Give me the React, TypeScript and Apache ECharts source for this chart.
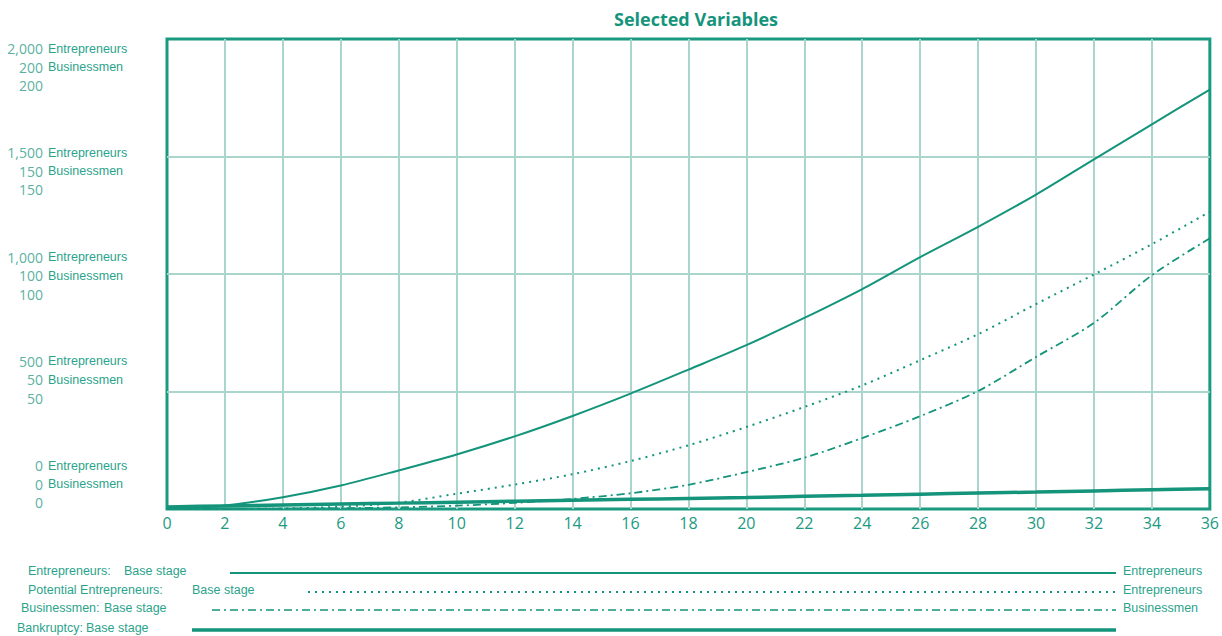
import React, { useEffect, useRef } from "react";
import * as echarts from "echarts";

const time = [0, 2, 4, 6, 8, 10, 12, 14, 16, 18, 20, 22, 24, 26, 28, 30, 32, 34, 36];
const entrepreneurs = [0, 15, 50, 100, 164, 232, 309, 396, 491, 593, 697, 813, 936, 1072, 1201, 1338, 1488, 1637, 1785];
const potentialEntrepreneurs = [0, 0, 2, 10, 27, 65, 104, 148, 204, 271, 349, 434, 526, 633, 744, 872, 998, 1127, 1265];
const businessmen = [0, 0, 0.1, 0.3, 0.7, 1.4, 2.6, 4.3, 6.7, 10.3, 15.7, 21.8, 30.2, 39.5, 50.2, 64.7, 79.2, 99.5, 115.2];
const bankruptcy = [0.9, 1.3, 1.7, 2.1, 2.5, 2.9, 3.3, 3.7, 4.1, 4.5, 4.9, 5.4, 5.8, 6.3, 6.8, 7.2, 7.7, 8.2, 8.6];

const entTickLabels = ["0", "500", "1,000", "1,500", "2,000"];
const busTickLabels = ["0", "50", "100", "150", "200"];

const legendNames = ["Entrepreneurs:", "Potential Entrepreneurs:", "Businessmen:", "Bankruptcy:"];
const legendStage = "Base stage";
const legendRight = ["Entrepreneurs", "Entrepreneurs", "Businessmen", ""];

const TEAL = "#14947b";
const GRIDC = "#a9d5cc";
const TEXTC = "#2ba38b";
const NUMC = "#5cb1a2";

const pairs = (ys: number[]) => ys.map((y, i) => [time[i], y]);

export default function App() {
  const ref = useRef<HTMLDivElement>(null);
  useEffect(() => {
    if (!ref.current) return;
    const chart = echarts.init(ref.current, null, { renderer: "svg" });

    const legendLayout = [
      { y: 571, nameX: 28, stageX: 124, lineX: 230, width: 2, dash: null as any },
      { y: 590, nameX: 28, stageX: 192, lineX: 308, width: 2, dash: [2, 5] },
      { y: 608, nameX: 21, stageX: 104, lineX: 212, width: 1.6, dash: [8, 4, 2, 4] },
      { y: 628, nameX: 17, stageX: 86, lineX: 192, width: 3.5, dash: null as any },
    ];
    const graphic: any[] = [];
    legendLayout.forEach((l, i) => {
      const font = { fontSize: 12.5, fontFamily: "Liberation Sans, Arial", fill: TEXTC, verticalAlign: "middle", align: "left" };
      graphic.push({ type: "text", x: l.nameX, y: l.y, style: { ...font, text: legendNames[i] } });
      graphic.push({ type: "text", x: l.stageX, y: l.y, style: { ...font, text: legendStage } });
      graphic.push({
        type: "line",
        shape: { x1: l.lineX, y1: l.y + 2, x2: 1116, y2: l.y + 2 },
        style: { stroke: TEAL, lineWidth: l.width, lineDash: l.dash || undefined },
      });
      if (legendRight[i]) {
        graphic.push({ type: "text", x: 1123, y: l.y, style: { ...font, text: legendRight[i] } });
      }
    });

    const option: any = {
      animation: false,
      backgroundColor: "#ffffff",
      title: {
        text: "Selected Variables",
        left: 691,
        textAlign: "center",
        top: 5,
        textStyle: { color: TEAL, fontSize: 18, fontWeight: "bold", fontFamily: "Open Sans" },
      },
      graphic,
      grid: [
        { left: 167, right: 6, top: 39, bottom: 127, show: true, borderColor: "#1a9a80", borderWidth: 3, backgroundColor: "transparent" },
        { left: 46, width: 1, top: 67, bottom: 152 },
      ],
      xAxis: [
        {
          type: "value",
          gridIndex: 0,
          min: 0,
          max: 36,
          interval: 2,
          axisLine: { show: false },
          axisTick: { show: false },
          axisLabel: { color: "#1c9a82", fontSize: 16, fontFamily: "Open Sans", margin: 6 },
          splitLine: { show: true, showMinLine: false, showMaxLine: false, lineStyle: { color: GRIDC, width: 2 } },
        },
        { type: "value", gridIndex: 1, show: false, min: 0, max: 1 },
      ],
      yAxis: [
        {
          type: "value",
          gridIndex: 0,
          min: 0,
          max: 2000,
          interval: 500,
          axisLine: { show: false },
          axisTick: { show: false },
          axisLabel: { show: false },
          splitLine: { show: true, showMinLine: false, showMaxLine: false, lineStyle: { color: GRIDC, width: 2 } },
        },
        {
          type: "value",
          gridIndex: 0,
          min: 0,
          max: 200,
          interval: 50,
          show: false,
        },
        {
          type: "value",
          gridIndex: 1,
          position: "left",
          min: 0,
          max: 2000,
          interval: 500,
          axisLine: { show: false },
          axisTick: { show: false },
          splitLine: { show: false },
          axisLabel: {
            margin: 3,
            align: "right",
            color: NUMC,
            fontSize: 14,
            fontFamily: "Open Sans",
            lineHeight: 18.5,
            formatter: (v: number) => {
              const i = Math.round(v / 500);
              return `${entTickLabels[i]}\n${busTickLabels[i]}\n${busTickLabels[i]}`;
            },
          },
        },
        {
          type: "value",
          gridIndex: 1,
          position: "left",
          min: 0,
          max: 2000,
          interval: 500,
          axisLine: { show: false },
          axisTick: { show: false },
          splitLine: { show: false },
          axisLabel: {
            margin: -2,
            align: "left",
            color: TEXTC,
            fontSize: 12.5,
            fontFamily: "Liberation Sans, Arial",
            lineHeight: 18.5,
            formatter: () => "Entrepreneurs\nBusinessmen\n ",
          },
        },
      ],
      series: [
        {
          name: "Entrepreneurs",
          type: "line",
          xAxisIndex: 0,
          yAxisIndex: 0,
          data: pairs(entrepreneurs),
          symbol: "none",
          smooth: 0.3,
          lineStyle: { color: TEAL, width: 2 },
        },
        {
          name: "Potential Entrepreneurs",
          type: "line",
          xAxisIndex: 0,
          yAxisIndex: 0,
          data: pairs(potentialEntrepreneurs),
          symbol: "none",
          smooth: 0.3,
          lineStyle: { color: TEAL, width: 2, type: [2, 5] },
        },
        {
          name: "Businessmen",
          type: "line",
          xAxisIndex: 0,
          yAxisIndex: 1,
          data: pairs(businessmen),
          symbol: "none",
          smooth: 0.3,
          lineStyle: { color: TEAL, width: 1.8, type: [8, 4, 2, 4] },
        },
        {
          name: "Bankruptcy",
          type: "line",
          xAxisIndex: 0,
          yAxisIndex: 1,
          data: pairs(bankruptcy),
          symbol: "none",
          smooth: 0.3,
          lineStyle: { color: TEAL, width: 3.5 },
        },
      ],
    };
    chart.setOption(option);
    return () => chart.dispose();
  }, []);
  return (
    <div
      ref={ref}
      style={{ position: "absolute", left: 0, top: 0, width: 1222, height: 636, background: "#fff" }}
    />
  );
}
